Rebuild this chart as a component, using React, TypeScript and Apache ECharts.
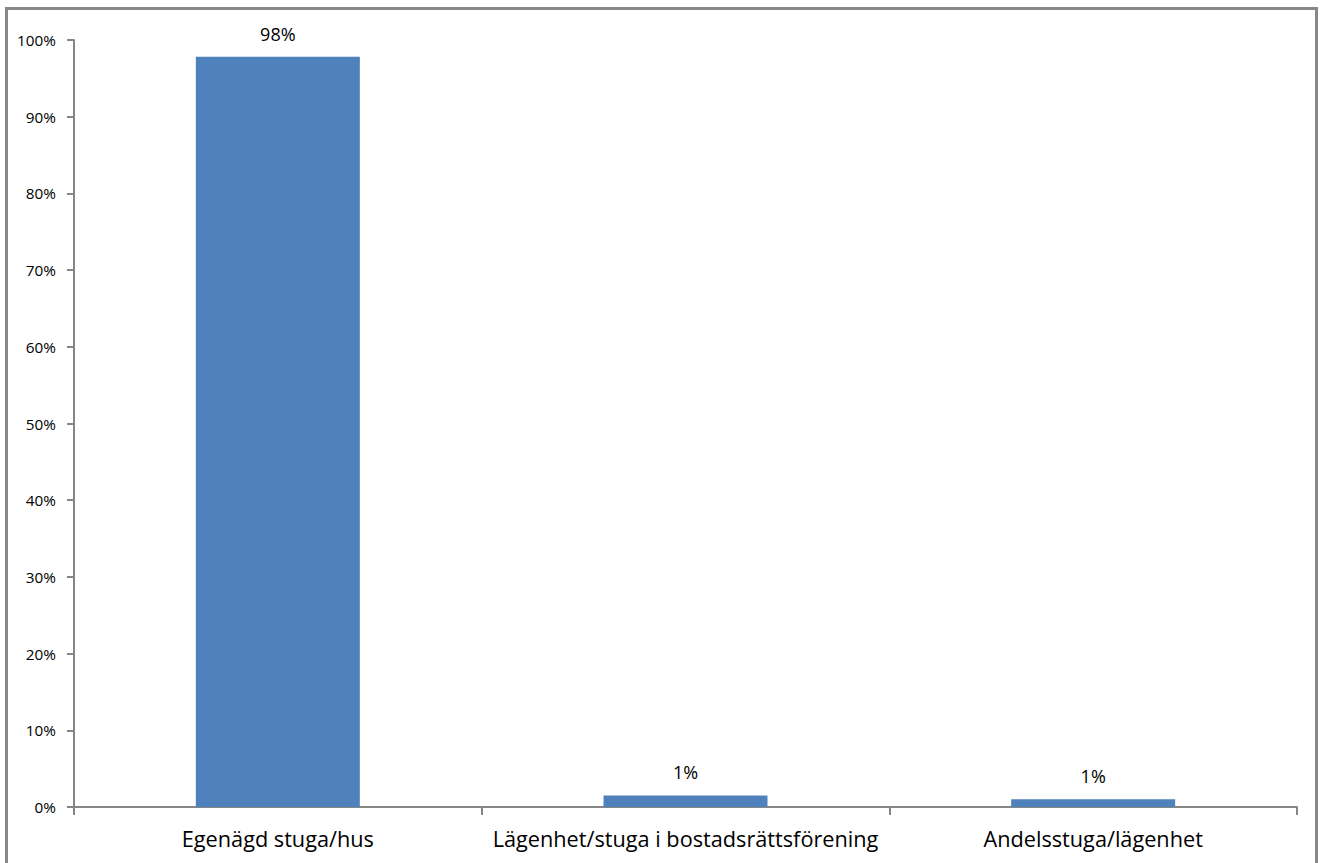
import React, { useEffect, useRef } from "react";
import * as echarts from "echarts";

const categories = ["Egenägd stuga/hus", "Lägenhet/stuga i bostadsrättsförening", "Andelsstuga/lägenhet"];
const values = [97.8, 1.5, 1.0];
const valueLabels = ["98%", "1%", "1%"];

export default function App() {
  const ref = useRef<HTMLDivElement>(null);
  useEffect(() => {
    const chart = echarts.init(ref.current!, undefined, { renderer: "svg" });
    const font = "'Open Sans', sans-serif";
    chart.setOption({
      animation: false,
      backgroundColor: "#fff",
      graphic: [
        {
          type: "rect",
          shape: { x: 6.5, y: 8.5, width: 1310, height: 900 },
          style: { fill: "none", stroke: "#888", lineWidth: 3 },
          silent: true,
        },
      ],
      grid: { left: 74, right: 28, top: 40, bottom: 56 },
      xAxis: {
        type: "category",
        data: categories,
        axisLine: { lineStyle: { color: "#868686", width: 2 } },
        axisTick: { show: true, interval: 0, length: 8, lineStyle: { color: "#868686", width: 2 }, alignWithLabel: false },
        axisLabel: { interval: 0, color: "#000", fontSize: 21.7, fontFamily: font, margin: 20 },
      },
      yAxis: {
        type: "value",
        min: 0,
        max: 100,
        interval: 10,
        splitLine: { show: false },
        axisLine: { show: true, lineStyle: { color: "#868686", width: 2 } },
        axisTick: { show: true, length: 7, lineStyle: { color: "#868686", width: 2 } },
        axisLabel: { color: "#000", fontSize: 15.3, fontFamily: font, margin: 18, formatter: "{value}%" },
      },
      series: [
        {
          type: "bar",
          data: values,
          barWidth: 164,
          itemStyle: { color: "#4F81BD" },
          label: {
            show: true,
            position: "top",
            distance: 14,
            color: "#000",
            fontSize: 18,
            fontFamily: font,
            formatter: (p: any) => valueLabels[p.dataIndex],
          },
        },
      ],
    });
    return () => chart.dispose();
  }, []);
  return <div ref={ref} style={{ position: "fixed", left: 0, top: 0, width: 1325, height: 863 }} />;
}
